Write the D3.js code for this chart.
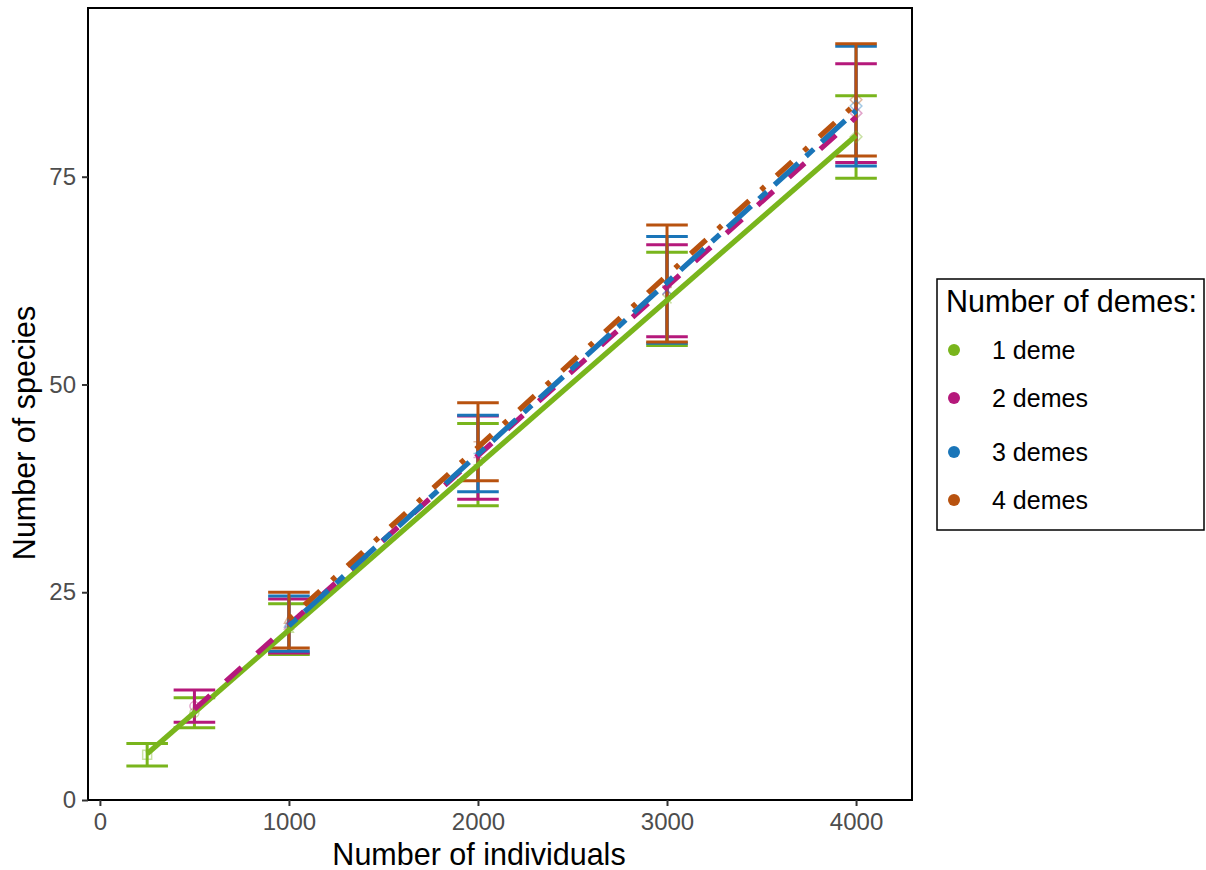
<!DOCTYPE html>
<html>
<head>
<meta charset="utf-8">
<script src="https://cdn.jsdelivr.net/npm/d3@7"></script>
<style>
  body { margin: 0; background: #fff; }
  text { font-family: "Liberation Sans", Arial, sans-serif; }
</style>
</head>
<body>
<script>
// values
var demeLabels = ["1 deme", "2 demes", "3 demes", "4 demes"];

var sizes1 = [250, 500, 1000, 2000, 3000, 4000];
var mean1  = [5.45, 10.5, 20.55, 40.35, 60.3, 79.8];
var lower1 = [4.1, 8.7, 17.5, 35.4, 54.7, 74.8];
var upper1 = [6.8, 12.3, 23.6, 45.3, 65.9, 84.75];

var sizes2 = [500, 1000, 2000, 3000, 4000];
var mean2  = [11.3, 20.95, 41.2, 61.3, 82.65];
var lower2 = [9.35, 17.7, 36.2, 55.75, 76.7];
var upper2 = [13.24, 24.2, 46.2, 66.8, 88.6];

var sizes3 = [1000, 2000, 3000, 4000];
var mean3  = [21.2, 41.7, 61.4, 83.5];
var lower3 = [17.9, 37.1, 54.95, 76.3];
var upper3 = [24.55, 46.3, 67.8, 90.7];

var sizes4 = [1000, 2000, 3000, 4000];
var mean4  = [21.65, 43.1, 62.15, 84.25];
var lower4 = [18.3, 38.4, 55.1, 77.5];
var upper4 = [25.0, 47.8, 69.2, 91.0];

var xTicks = [0, 1000, 2000, 3000, 4000];
var yTicks = [0, 25, 50, 75];

// styling
var colors = ["#79b51c", "#b5187b", "#1a75b8", "#b8520f"];
var dashes = [null, "21,21", "10.5,10.5,32,10.5", "5,16,21,16"];
var shapeBySize = {250: "square", 500: "circle", 1000: "triangle", 2000: "plus", 3000: "cross", 4000: "diamond"};

var series = [
  {sizes: sizes1, mean: mean1, lower: lower1, upper: upper1},
  {sizes: sizes2, mean: mean2, lower: lower2, upper: upper2},
  {sizes: sizes3, mean: mean3, lower: lower3, upper: upper3},
  {sizes: sizes4, mean: mean4, lower: lower4, upper: upper4}
];

var svgWidth = 1206, svgHeight = 870;
var panel = {left: 88, top: 8, right: 912, bottom: 800};

var svg = d3.select("body").append("svg")
  .attr("width", svgWidth)
  .attr("height", svgHeight);

var x = d3.scaleLinear().domain([-63, 4296]).range([panel.left, panel.right]);
var y = d3.scaleLinear().domain([0, 95.3]).range([panel.bottom, panel.top]);

// least squares fit, like geom_smooth(method = "lm")
function fit(xs, ys) {
  var mx = d3.mean(xs), my = d3.mean(ys);
  var num = d3.sum(xs, function(v, i) { return (v - mx) * (ys[i] - my); });
  var den = d3.sum(xs, function(v) { return (v - mx) * (v - mx); });
  var b = num / den;
  return function(v) { return my + b * (v - mx); };
}

var plot = svg.append("g");
var capHalf = 110;

// error bars
series.forEach(function(s, k) {
  var g = plot.append("g")
    .attr("stroke", colors[k])
    .attr("stroke-width", 3);
  s.sizes.forEach(function(n, i) {
    g.append("line")
      .attr("x1", x(n)).attr("x2", x(n))
      .attr("y1", y(s.lower[i])).attr("y2", y(s.upper[i]));
    [s.lower[i], s.upper[i]].forEach(function(v) {
      g.append("line")
        .attr("x1", x(n - capHalf)).attr("x2", x(n + capHalf))
        .attr("y1", y(v)).attr("y2", y(v));
    });
  });
});

// faint hollow points at the means
function shapePath(type, r) {
  switch (type) {
    case "square": return "M" + (-r) + "," + (-r) + "h" + 2 * r + "v" + 2 * r + "h" + (-2 * r) + "Z";
    case "circle": return d3.symbol(d3.symbolCircle, Math.PI * r * r)();
    case "triangle": return "M0," + (-r * 1.15) + "L" + r + "," + r * 0.7 + "L" + (-r) + "," + r * 0.7 + "Z";
    case "plus": return "M" + (-r) + ",0H" + r + "M0," + (-r) + "V" + r;
    case "cross": return "M" + (-r) + "," + (-r) + "L" + r + "," + r + "M" + r + "," + (-r) + "L" + (-r) + "," + r;
    case "diamond": return "M0," + (-r * 1.3) + "L" + r * 1.3 + ",0L0," + r * 1.3 + "L" + (-r * 1.3) + ",0Z";
  }
}

series.forEach(function(s, k) {
  plot.append("g").selectAll("path")
    .data(s.sizes)
    .enter().append("path")
    .attr("transform", function(n, i) { return "translate(" + x(n) + "," + y(s.mean[i]) + ")"; })
    .attr("d", function(n) { return shapePath(shapeBySize[n], 4.5); })
    .attr("fill", "none")
    .attr("stroke", colors[k])
    .attr("stroke-width", 1.5)
    .attr("opacity", 0.4);
});

// fitted lines
var line = d3.line().x(function(d) { return x(d[0]); }).y(function(d) { return y(d[1]); });
series.forEach(function(s, k) {
  var f = fit(s.sizes, s.mean);
  var n0 = d3.min(s.sizes), n1 = d3.max(s.sizes);
  plot.append("path")
    .attr("d", line([[n0, f(n0)], [n1, f(n1)]]))
    .attr("fill", "none")
    .attr("stroke", colors[k])
    .attr("stroke-width", 5.3)
    .attr("stroke-dasharray", dashes[k]);
});

// panel border
svg.append("rect")
  .attr("x", panel.left).attr("y", panel.top)
  .attr("width", panel.right - panel.left)
  .attr("height", panel.bottom - panel.top)
  .attr("fill", "none")
  .attr("stroke", "#000")
  .attr("stroke-width", 2);

// axes
var xAxis = svg.append("g")
  .attr("transform", "translate(0," + panel.bottom + ")")
  .call(d3.axisBottom(x).tickValues(xTicks).tickFormat(d3.format("d")).tickSize(6).tickPadding(6));
var yAxis = svg.append("g")
  .attr("transform", "translate(" + panel.left + ",0)")
  .call(d3.axisLeft(y).tickValues(yTicks).tickSize(6).tickPadding(6));

[xAxis, yAxis].forEach(function(a) {
  a.select(".domain").remove();
  a.selectAll(".tick line").attr("stroke", "#333").attr("stroke-width", 2);
  a.selectAll(".tick text")
    .attr("fill", "#4d4d4d")
    .style("font-size", "24px");
});
xAxis.selectAll(".tick text").attr("dy", "0.75em");

svg.append("text")
  .attr("x", 479).attr("y", 865)
  .attr("text-anchor", "middle")
  .style("font-size", "30.5px")
  .text("Number of individuals");

svg.append("text")
  .attr("transform", "translate(35,433) rotate(-90)")
  .attr("text-anchor", "middle")
  .style("font-size", "30.5px")
  .text("Number of species");

// legend
var legend = svg.append("g");
legend.append("rect")
  .attr("x", 937).attr("y", 279)
  .attr("width", 267).attr("height", 251)
  .attr("fill", "#fff")
  .attr("stroke", "#000")
  .attr("stroke-width", 1.5);
legend.append("text")
  .attr("x", 946).attr("y", 312)
  .style("font-size", "30.5px")
  .text("Number of demes:");

var legendY = [350, 398, 452, 500];
var items = legend.selectAll(".item")
  .data(demeLabels)
  .enter().append("g")
  .attr("class", "item")
  .attr("transform", function(d, i) { return "translate(0," + legendY[i] + ")"; });
items.append("circle")
  .attr("cx", 954).attr("cy", 0).attr("r", 6)
  .attr("fill", function(d, i) { return colors[i]; });
items.append("text")
  .attr("x", 992).attr("y", 0).attr("dy", "0.35em")
  .style("font-size", "25px")
  .text(function(d) { return d; });
</script>
</body>
</html>
